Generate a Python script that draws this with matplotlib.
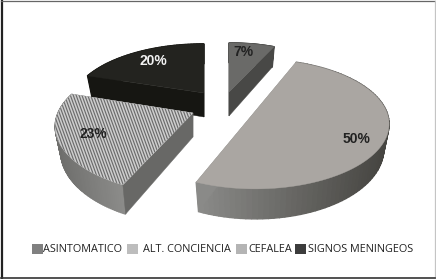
import numpy as np
import matplotlib
matplotlib.use('Agg')
import matplotlib.pyplot as plt
from matplotlib.patches import Polygon, Rectangle
from matplotlib.collections import LineCollection
from matplotlib.colors import LinearSegmentedColormap

labels = ['ASINTOMATICO', 'ALT. CONCIENCIA', 'CEFALEA', 'SIGNOS MENINGEOS']
values = [7, 50, 23, 20]
pct_labels = ['7%', '50%', '23%', '20%']

# placement of each exploded slice, in pixels (apex x, apex y, radius x, radius y, rotation)
slice_pos = [
    (229, 92, 125, 59, 0),
    (255.4, 111, 131, 62.3, -3.6),
    (193, 113, 135, 65, 0),
    (204, 93, 130, 59, 0),
]
depth = 24
persp = 0.2
bottom_shrink = 0.96

top_colors = ['#6a6a68', '#aaa6a2', '#cfcfcf', '#23231f']
cut_colors = ['#484846', '#8a8a88', '#686866', '#161612']
side_colors = [('#484846', '#484846'), ('#8c8c8a', '#454440'),
               ('#6e6e6c', '#8c8c8a'), ('#161612', '#161612')]
legend_colors = ['#808080', '#bdbdbd', '#b4b4b4', '#3c3c3c']
legend_x = [32, 127, 236, 295]
text_x = [43, 143, 248, 308]
pct_xy = [(243, 52), (356, 139), (93, 134), (153, 61)]
pct_colors = ['#222222', '#222222', '#222222', '#f2f2f2']


def project(i, theta, lower=False):
    px, py, a, b, rot = slice_pos[i]
    t = np.radians(theta + rot)
    s = 1 / (1 + persp * np.cos(t))
    x = a * np.sin(t) * s
    y = -b * np.cos(t) * s
    if lower:
        return px + x * bottom_shrink, py + y + depth * s
    return px + x, py + y


def apex(i, lower=False):
    px, py = slice_pos[i][:2]
    return (px, py + depth) if lower else (px, py)


fig = plt.figure(figsize=(4.36, 2.79), dpi=100)
ax = fig.add_axes([0, 0, 1, 1])
ax.set_xlim(0, 436)
ax.set_ylim(279, 0)
ax.axis('off')

edges = np.cumsum([0] + values) * 3.6

# back slices first
for i in [3, 0, 2, 1]:
    th = np.linspace(edges[i], edges[i + 1], 90)
    low = np.array([project(i, t, True) for t in th])
    up = np.array([project(i, t) for t in th])

    # outer wall, split in strips for the gradient
    cmap = LinearSegmentedColormap.from_list('w', side_colors[i][::-1])
    for j in range(len(th) - 1):
        quad = [up[j], up[j + 1], low[j + 1], low[j]]
        c = cmap(1 - (up[j][0] - up[:, 0].min()) / (np.ptp(up[:, 0]) + 1e-6))
        ax.add_patch(Polygon(quad, closed=True, fc=c, ec=c, lw=1.0))

    # cut faces
    for end in [0, -1]:
        quad = [apex(i), up[end], low[end], apex(i, True)]
        ax.add_patch(Polygon(quad, closed=True, fc=cut_colors[i], ec=cut_colors[i], lw=0.3))

    # top surface
    top = np.vstack([[apex(i)], up])
    patch = Polygon(top, closed=True, fc=top_colors[i], ec=top_colors[i], lw=0.3)
    ax.add_patch(patch)
    if i == 2:
        # steep stripes, same look as the picture
        xs = np.arange(30, 240, 2.9)
        segs = [[(x, 80), (x + 40, 190)] for x in xs]
        lc = LineCollection(segs, colors='#6c6c6c', linewidths=0.85)
        ax.add_collection(lc)
        lc.set_clip_path(patch)

for (x, y), t, c in zip(pct_xy, pct_labels, pct_colors):
    ax.text(x, y, t, color=c, fontsize=10, fontweight='bold', family='Liberation Sans',
            ha='center', va='center')

# legend
for i, name in enumerate(labels):
    ax.add_patch(Rectangle((legend_x[i], 243.5), 10.5, 10.5, fc=legend_colors[i], ec='none', lw=0))
    ax.text(text_x[i], 249, name, fontsize=7.8, family='Open Sans', color='#222222', va='center', ha='left')

# frame, heavier on the left and bottom
ax.plot([2, 2], [1, 278], color='#222222', lw=1.6)
ax.plot([1, 435], [1, 1], color='#666666', lw=0.9)
ax.plot([435, 435], [1, 278], color='#c4c4c4', lw=0.9)
ax.plot([1, 435], [277.5, 277.5], color='#333333', lw=1.2)

fig.savefig('out.png', dpi=100)
